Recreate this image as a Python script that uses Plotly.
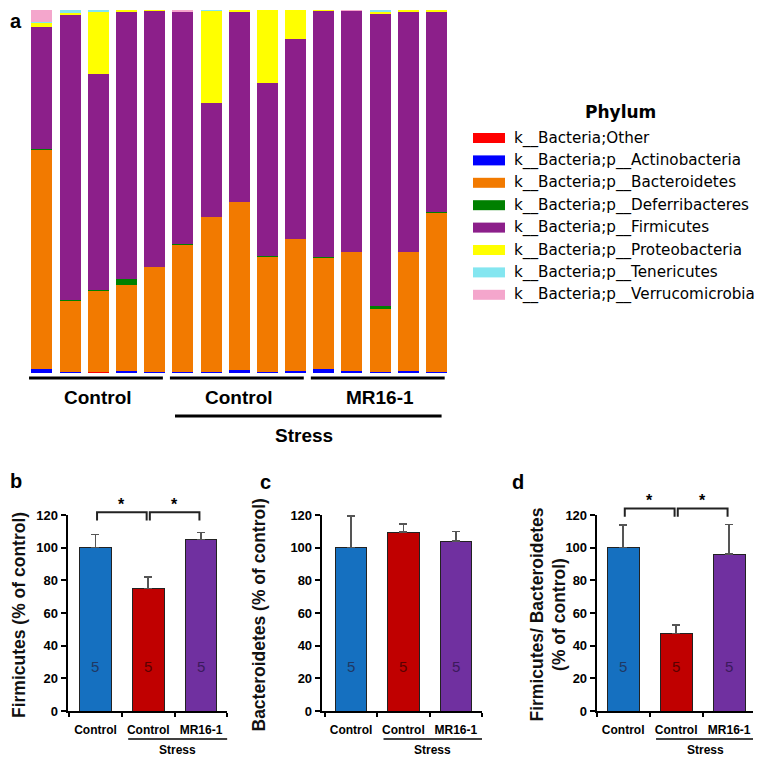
import plotly.graph_objects as go

W, H = 762, 757
OFF = 8  # the page body adds an 8px margin around the figure div
FONT = "Arial, Liberation Sans, sans-serif"

# ── Panel a: relative abundance per sample (%) ───────────────────────────────
samples = list(range(15))
group_labels = ["Control", "Control", "MR16-1"]
group_spans = [(0, 4), (5, 9), (10, 14)]

phyla = [
    "k__Bacteria;Other",
    "k__Bacteria;p__Actinobacteria",
    "k__Bacteria;p__Bacteroidetes",
    "k__Bacteria;p__Deferribacteres",
    "k__Bacteria;p__Firmicutes",
    "k__Bacteria;p__Proteobacteria",
    "k__Bacteria;p__Tenericutes",
    "k__Bacteria;p__Verrucomicrobia",
]
phylum_colors = ["#FF0000", "#0000FF", "#F27A00", "#008000",
                 "#8C1F8A", "#FFFF00", "#84E6F0", "#F4A6CC"]

other           = [0, 0, 0.3, 0, 0, 0, 0, 0, 0, 0, 0, 0, 0, 0, 0]
actinobacteria  = [1.0, 0.3, 0, 0.6, 0.4, 0.2, 0.3, 0.8, 0.3, 0.6, 1.0, 0.5, 0.3, 0.5, 0.2]
bacteroidetes   = [60.6, 19.8, 22.4, 23.6, 28.9, 35.3, 42.6, 46.2, 31.9, 36.2, 30.7, 32.7, 17.2, 32.7, 44.0]
deferribacteres = [0.2, 0.1, 0.3, 1.6, 0, 0.1, 0, 0, 0.1, 0, 0.2, 0, 0.9, 0, 0.2]
firmicutes      = [33.5, 78.4, 59.4, 73.7, 70.5, 64.1, 31.4, 52.5, 47.5, 55.1, 67.9, 66.6, 80.7, 66.2, 55.1]
proteobacteria  = [1.2, 0.6, 17.3, 0.5, 0.2, 0, 25.5, 0.5, 20.2, 8.1, 0.2, 0, 0.4, 0.6, 0.5]
tenericutes     = [0.2, 0.8, 0.3, 0, 0, 0, 0.2, 0, 0, 0, 0, 0, 0.5, 0, 0]
verrucomicrobia = [3.3, 0, 0, 0, 0, 0.3, 0, 0, 0, 0, 0, 0.2, 0, 0, 0]
abundance = [other, actinobacteria, bacteroidetes, deferribacteres,
             firmicutes, proteobacteria, tenericutes, verrucomicrobia]

# ── Panels b-d: % of control, mean + SEM ────────────────────────────────────
bar_labels = ["Control", "Control", "MR16-1"]
bar_colors = ["#1570C0", "#C00000", "#7030A0"]
n_colors = ["#1F3864", "#5A0000", "#3B1A5C"]
n_counts = [5, 5, 5]

firm_mean = [100, 75, 105]
firm_sem = [8, 7, 4.3]
bact_mean = [100, 109.5, 104]
bact_sem = [19.3, 5, 6]
ratio_mean = [100, 47.3, 96]
ratio_sem = [14, 5.5, 18.3]


def px_x(p):
    return (p - OFF) / W


def px_y(p):
    return 1 - (p - OFF) / H


fig = go.Figure()

for name, color, vals in zip(phyla, phylum_colors, abundance):
    fig.add_trace(go.Bar(x=samples, y=vals, name=name, marker=dict(color=color, line=dict(width=0)),
                         showlegend=False, xaxis="x", yaxis="y"))

panels = [
    ("2", firm_mean, firm_sem, "Firmicutes (% of control)", [(0, 1), (1, 2)]),
    ("3", bact_mean, bact_sem, "Bacteroidetes (% of control)", []),
    ("4", ratio_mean, ratio_sem, "Firmicutes/ Bacteroidetes<br>(% of control)", [(0, 1), (1, 2)]),
]
for ax, mean, sem, _, _ in panels:
    fig.add_trace(go.Bar(
        x=[0, 1, 2], y=mean, width=0.6,
        marker=dict(color=bar_colors, line=dict(color="#222", width=1)),
        error_y=dict(type="data", array=sem, arrayminus=[0, 0, 0], symmetric=False,
                     color="#555", thickness=1.5, width=4),
        showlegend=False, xaxis="x" + ax, yaxis="y" + ax,
    ))

# axis geometry (pixels)
ydom = [px_y(711), px_y(515)]
xdoms = {"2": ([67.5, 227.4], [-0.53, 2.5]),
         "3": ([321.7, 482.0], [-0.56, 2.5]),
         "4": ([596.7, 753.0], [-0.5, 2.45])}

layout = dict(
    width=W, height=H, margin=dict(l=0, r=0, t=0, b=0, pad=0, autoexpand=False),
    paper_bgcolor="white", plot_bgcolor="white", showlegend=False,
    font=dict(family=FONT, color="black"),
    barmode="stack", bargap=0.255,
    xaxis=dict(domain=[px_x(27.9), px_x(450.6)], range=[-0.5, 14.5], visible=False),
    yaxis=dict(domain=[px_y(373), px_y(10)], range=[0, 100], visible=False),
)
for ax, (dom, rng) in xdoms.items():
    layout["xaxis" + ax] = dict(
        domain=[px_x(dom[0]), px_x(dom[1])], range=rng, anchor="y" + ax,
        showline=True, linecolor="black", linewidth=2, showgrid=False, zeroline=False,
        tickvals=[0, 1, 2], ticktext=bar_labels,
        ticks="outside", ticklen=7, tickcolor="rgba(0,0,0,0)",
        tickfont=dict(size=12, family=FONT, weight="bold"),
        minor=dict(tickvals=[-0.5, 0.5, 1.5, 2.5], ticks="outside", ticklen=4,
                   tickwidth=2, tickcolor="black"),
    )
    layout["yaxis" + ax] = dict(
        domain=ydom, range=[0, 120], anchor="x" + ax,
        showline=True, linecolor="black", linewidth=2, showgrid=False, zeroline=False,
        tickvals=[0, 20, 40, 60, 80, 100, 120], ticks="outside", ticklen=5, tickwidth=2,
        tickcolor="black", tickfont=dict(size=13, family=FONT, weight="bold"),
    )
fig.update_layout(**layout)

shapes = []
annotations = []


def note(**kw):
    kw.setdefault("showarrow", False)
    kw.setdefault("xanchor", "center")
    kw.setdefault("yanchor", "middle")
    annotations.append(kw)


# panel a group bars / labels
for label, (s, e) in zip(group_labels, group_spans):
    shapes.append(dict(type="line", xref="x", yref="paper", x0=s - 0.46, x1=e + 0.29,
                       y0=px_y(378), y1=px_y(378), line=dict(color="black", width=3)))
    note(xref="x", yref="paper", x=(s + e) / 2, y=px_y(397), text=label,
         font=dict(size=19, family=FONT, weight="bold"))
shapes.append(dict(type="line", xref="x", yref="paper", x0=4.72, x1=14.18,
                   y0=px_y(416), y1=px_y(416), line=dict(color="black", width=3)))
note(xref="x", yref="paper", x=9.3, y=px_y(435), text="Stress",
     font=dict(size=19, family=FONT, weight="bold"))

# panel a legend
note(xref="paper", yref="paper", x=px_x(620), y=px_y(112), text="Phylum",
     font=dict(size=17, family="DejaVu Sans", weight="bold"))
for i, (name, color) in enumerate(zip(phyla, phylum_colors)):
    yc = 138 + 22.4 * i
    shapes.append(dict(type="rect", xref="paper", yref="paper", x0=px_x(473), x1=px_x(505),
                       y0=px_y(yc + 5), y1=px_y(yc - 5), fillcolor=color, line=dict(width=0)))
    note(xref="paper", yref="paper", x=px_x(512), y=px_y(yc), text=name, xanchor="left",
         font=dict(size=15.2, family="DejaVu Sans", color="black"))


def val_y(v):
    return ydom[0] + v / 120 * (ydom[1] - ydom[0])


# panels b-d annotations
for ax, mean, sem, title, pairs in panels:
    xr = "x" + ax
    for i, n in enumerate(n_counts):
        note(xref=xr, yref="y" + ax, x=i, y=27.5, text=str(n),
             font=dict(size=15, family=FONT, color=n_colors[i]))
    hy = 121.7 if ax == "2" else 124
    for a, b in pairs:
        x0, x1 = a + 0.03, b - 0.03
        shapes.append(dict(type="path", xref=xr, yref="paper",
                           path=f"M {x0},{val_y(hy - 5)} L {x0},{val_y(hy)} L {x1},{val_y(hy)} L {x1},{val_y(hy - 5)}",
                           line=dict(color="#222", width=2)))
        note(xref=xr, yref="paper", x=(x0 + x1) / 2, y=val_y(hy + 5), text="*",
             font=dict(size=16, family=FONT, weight="bold"))
    shapes.append(dict(type="line", xref=xr, yref="paper", x0=0.62, x1=2.5,
                       y0=px_y(739), y1=px_y(739), line=dict(color="black", width=1.5)))
    note(xref=xr, yref="paper", x=1.55, y=px_y(750), text="Stress",
         font=dict(size=12, family=FONT, weight="bold"))

titles_pos = {"2": 19, "3": 258.5, "4": 547.5}
for ax, mean, sem, title, pairs in panels:
    note(xref="paper", yref="paper", x=px_x(titles_pos[ax]), y=px_y(615),
         text=title, textangle=-90,
         font=dict(size=17.5, family=FONT, weight="bold", color="#111"))

# panel letters
for letter, (lx, ly) in {"a": (16, 21), "b": (16, 481), "c": (265, 482), "d": (518, 482)}.items():
    note(xref="paper", yref="paper", x=px_x(lx), y=px_y(ly), text=letter, borderpad=0,
         font=dict(size=20, family=FONT, weight="bold"))

fig.update_layout(shapes=shapes, annotations=annotations)
fig.write_html("out.html")
